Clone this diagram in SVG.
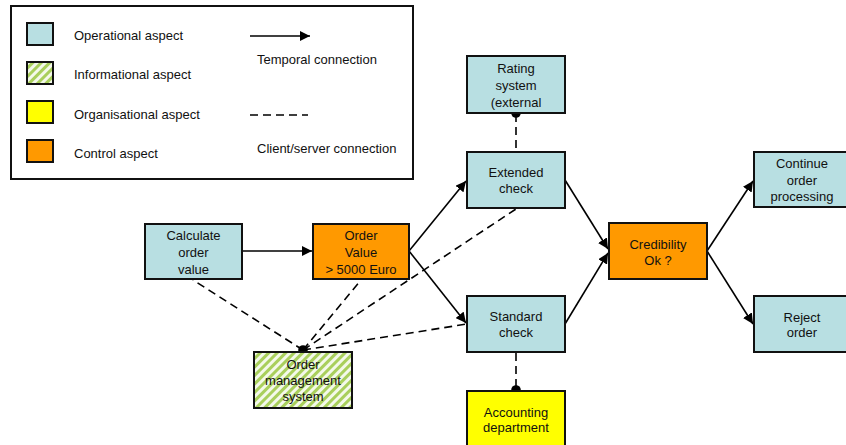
<svg xmlns="http://www.w3.org/2000/svg" width="846" height="445" viewBox="0 0 846 445">
  <style>
    text { font-family: "Liberation Sans", Arial, sans-serif; font-size: 13px; fill: #111; }
    .node text { text-anchor: middle; }
    .box { stroke: #111; stroke-width: 2; }
    .op { fill: #b8dfe2; }
    .ctl { fill: #ff9900; }
    .org { fill: #ffff00; }
    .info { fill: url(#hatch); }
    .flow { stroke: #000; stroke-width: 1.6; fill: none; marker-end: url(#arrow); }
    .cs { stroke: #000; stroke-width: 1.6; fill: none; stroke-dasharray: 8 5; }
    .dot { fill: #000; }
  </style>
  <defs>
    <marker id="arrow" viewBox="0 0 10 10" refX="10" refY="5" markerWidth="6.5" markerHeight="6.5" markerUnits="strokeWidth" orient="auto">
      <path d="M0,0 L10,5 L0,10 z" fill="#000"/>
    </marker>
    <pattern id="hatch" patternUnits="userSpaceOnUse" width="6" height="6" patternTransform="rotate(45)">
      <rect width="6" height="6" fill="#f4f9ea"/>
      <rect width="3" height="6" fill="#a9cf5c"/>
    </pattern>
  </defs>

  <!-- legend -->
  <g id="legend">
    <rect x="11" y="6" width="402" height="173" fill="#fff" stroke="#111" stroke-width="2"/>
    <rect class="box op" x="27" y="23" width="26" height="22"/>
    <rect class="box info" x="27" y="62" width="26" height="22"/>
    <rect class="box org" x="27" y="101" width="26" height="22"/>
    <rect class="box ctl" x="27" y="140" width="26" height="22"/>
    <text x="74" y="40">Operational aspect</text>
    <text x="74" y="79">Informational aspect</text>
    <text x="74" y="119">Organisational aspect</text>
    <text x="74" y="158">Control aspect</text>
    <line class="flow" x1="250" y1="36" x2="310" y2="36"/>
    <text x="257" y="64">Temporal connection</text>
    <line class="cs" x1="250" y1="115" x2="308" y2="115"/>
    <text x="257" y="153">Client/server connection</text>
  </g>

  <!-- connectors -->
  <g id="connectors">
    <line class="flow" x1="242" y1="251" x2="312" y2="251"/>
    <line class="flow" x1="409" y1="251" x2="466" y2="181"/>
    <line class="flow" x1="409" y1="251" x2="466" y2="323"/>
    <line class="flow" x1="565" y1="180" x2="608" y2="249"/>
    <line class="flow" x1="565" y1="324" x2="608" y2="253"/>
    <line class="flow" x1="707" y1="251" x2="753" y2="181"/>
    <line class="flow" x1="707" y1="251" x2="753" y2="324"/>

    <line class="cs" x1="516" y1="114" x2="516" y2="152"/>
    <line class="cs" x1="516" y1="353" x2="516" y2="390"/>
    <line class="cs" x1="303" y1="350" x2="193" y2="280"/>
    <line class="cs" x1="303" y1="350" x2="361" y2="280"/>
    <line class="cs" x1="303" y1="350" x2="516" y2="209"/>
    <line class="cs" x1="303" y1="350" x2="467" y2="324"/>
    <circle class="dot" cx="303" cy="350" r="4.8"/>
    <circle class="dot" cx="516" cy="113" r="4.8"/>
    <circle class="dot" cx="516" cy="390" r="4.8"/>
  </g>

  <g id="calc" class="node">
    <rect class="box op" x="145" y="224" width="97" height="55"/>
    <text x="193.5" y="239.5">Calculate</text>
    <text x="193.5" y="256.5">order</text>
    <text x="193.5" y="273.5">value</text>
  </g>

  <g id="ordervalue" class="node">
    <rect class="box ctl" x="313" y="224" width="96" height="55"/>
    <text x="361" y="239.5">Order</text>
    <text x="361" y="256.5">Value</text>
    <text x="361" y="273.5">&gt; 5000 Euro</text>
  </g>

  <g id="oms" class="node">
    <rect class="box info" x="254" y="352" width="98" height="56"/>
    <text x="303" y="368.5">Order</text>
    <text x="303" y="385">management</text>
    <text x="303" y="401">system</text>
  </g>

  <g id="rating" class="node">
    <rect class="box op" x="467" y="56" width="98" height="57"/>
    <text x="516" y="72.5">Rating</text>
    <text x="516" y="89.5">system</text>
    <text x="516" y="106.5">(external</text>
  </g>

  <g id="extended" class="node">
    <rect class="box op" x="467" y="152" width="98" height="56"/>
    <text x="516" y="176.5">Extended</text>
    <text x="516" y="192.5">check</text>
  </g>

  <g id="standard" class="node">
    <rect class="box op" x="467" y="296" width="98" height="56"/>
    <text x="516" y="320.5">Standard</text>
    <text x="516" y="336.5">check</text>
  </g>

  <g id="accounting" class="node">
    <rect class="box org" x="467" y="391" width="98" height="60"/>
    <text x="516" y="416.5">Accounting</text>
    <text x="516" y="431.5">department</text>
  </g>

  <g id="credibility" class="node">
    <rect class="box ctl" x="609" y="223" width="98" height="56"/>
    <text x="658" y="248.5">Credibility</text>
    <text x="658" y="264.5">Ok ?</text>
  </g>

  <g id="continue" class="node">
    <rect class="box op" x="754" y="152" width="98" height="55"/>
    <text x="802" y="167.5">Continue</text>
    <text x="802" y="185">order</text>
    <text x="802" y="200.5">processing</text>
  </g>

  <g id="reject" class="node">
    <rect class="box op" x="754" y="296" width="98" height="56"/>
    <text x="802" y="321.5">Reject</text>
    <text x="802" y="336.5">order</text>
  </g>
</svg>
